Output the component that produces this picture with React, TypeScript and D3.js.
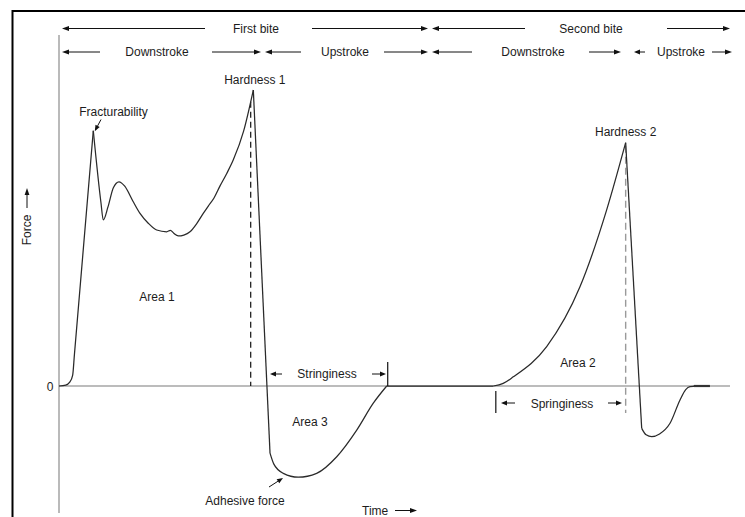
import React from "react";
import * as d3 from "d3";

const W = 745;
const H = 517;

type Pt = [number, number]; // [time, force]

// ---- curve data (time units, force units) ----
const firstRise: Pt[] = [[0, 0], [1.0, 0.3], [1.6, 1.3], [2.04, 3.7], [2.3, 10.7], [5.11, 86.25]];
const firstBitePlateau: Pt[] = [
  [5.11, 86.25], [6.25, 62], [6.6, 56.1], [7.3, 60.5], [8.1, 67], [8.94, 69.0], [9.8, 67.5],
  [11, 62.5], [12.07, 58.3], [13.3, 55], [14.56, 52.7], [16.05, 52.1], [16.6, 52.6], [17.1, 51.6],
  [17.78, 50.7], [18.6, 51], [19.52, 52.1], [20.5, 54.8], [21.5, 58.3], [22.25, 60.8], [23.1, 63.5],
  [24.0, 67.6], [25.0, 71.8], [25.98, 76.4], [27.5, 86], [28.96, 100],
];
const firstDrop: Pt[] = [[28.96, 100], [31.45, -22.7]];
const adhesion: Pt[] = [
  [31.45, -22.7], [32.0, -26.3], [33.43, -29.5], [35.66, -30.8], [38.4, -29.5], [41.39, -23.9],
  [44.37, -14.9], [46.84, -5.8], [48.84, 0],
];
const rest: Pt[] = [[48.84, 0], [64.72, 0]];
const secondRise: Pt[] = [[64.72, 0], [66.2, 0.9], [67.7, 3.1], [72.68, 13.3], [77.64, 33.5], [81.62, 59.5], [84.45, 82.2]];
const secondDrop: Pt[] = [[84.45, 82.2], [86.84, -14.3]];
const secondTail: Pt[] = [
  [86.84, -14.3], [87.5, -16.5], [88.33, -17.1], [89.5, -16.2], [91.06, -12.6], [92.55, -4.7],
  [93.4, -1.2], [94.04, -0.2], [95, 0], [97, 0],
];

// ---- labels ----
const biteLabels = ["First bite", "Second bite"];
const strokeLabels = ["Downstroke", "Upstroke", "Downstroke", "Upstroke"];
const pointLabels = ["Fracturability", "Hardness 1", "Hardness 2"];
const areaLabels = ["Area 1", "Area 2", "Area 3"];
const distanceLabels = ["Stringiness", "Springiness"];
const hardness1DashTime = 28.57;
const springinessStartTime = 65.1;
const zeroTickLabel = "0";

const FONT = "'Liberation Sans', Arial, Helvetica, sans-serif";
const TXT = "#1c1c1c";

function Arrow({ x1, y1, x2, y2, len = 7, hw = 2.4, color = "#111", sw = 1 }: any) {
  const ang = Math.atan2(y2 - y1, x2 - x1);
  const bx = x2 - len * Math.cos(ang);
  const by = y2 - len * Math.sin(ang);
  const px = -Math.sin(ang) * hw;
  const py = Math.cos(ang) * hw;
  return (
    <g>
      <line x1={x1} y1={y1} x2={bx} y2={by} stroke={color} strokeWidth={sw} />
      <path d={`M${x2},${y2}L${bx + px},${by + py}L${bx - px},${by - py}Z`} fill={color} />
    </g>
  );
}

function Label({ x, y, children, anchor = "middle" }: any) {
  return (
    <text x={x} y={y} textAnchor={anchor} fontFamily={FONT} fontSize={12} fill={TXT}>
      {children}
    </text>
  );
}

export default function App() {
  const x = d3.scaleLinear().domain([0, 100]).range([59, 730]);
  const y = d3.scaleLinear().domain([0, 100]).range([386, 90]);

  const smooth = d3.line<Pt>().x((d) => x(d[0])).y((d) => y(d[1])).curve(d3.curveMonotoneX);
  const straight = d3.line<Pt>().x((d) => x(d[0])).y((d) => y(d[1])).curve(d3.curveLinear);

  const segs: { pts: Pt[]; s: boolean }[] = [
    { pts: firstRise, s: true },
    { pts: firstBitePlateau, s: true },
    { pts: firstDrop, s: false },
    { pts: adhesion, s: true },
    { pts: rest, s: false },
    { pts: secondRise, s: true },
    { pts: secondDrop, s: false },
    { pts: secondTail, s: true },
  ];

  const h1 = firstBitePlateau[firstBitePlateau.length - 1];
  const h2 = secondRise[secondRise.length - 1];
  const stringEnd = adhesion[adhesion.length - 1];

  const row1 = 28.5;
  const row2 = 52;

  return (
    <svg width={W} height={H} style={{ position: "absolute", left: 0, top: 0, background: "#fff" }}>
      {/* frame */}
      <rect x={12.5} y={11} width={900} height={700} fill="none" stroke="#000" strokeWidth={2} />

      {/* axes */}
      <line x1={x(0)} x2={x(0)} y1={35} y2={513} stroke="#8c8c8c" strokeWidth={1.2} />
      <line x1={x(0)} x2={x(100)} y1={y(0)} y2={y(0)} stroke="#7a7a7a" strokeWidth={1.2} />
      <Label x={50} y={y(0) + 5}>{zeroTickLabel}</Label>

      {/* Force label */}
      <g transform={`translate(31,230) rotate(-90)`}>
        <text x={0} y={0} textAnchor="middle" fontFamily={FONT} fontSize={12} fill={TXT}>Force</text>
      </g>
      <Arrow x1={27} y1={208} x2={27} y2={188} />

      {/* Time label */}
      <Label x={362} y={514.5} anchor="start">Time</Label>
      <Arrow x1={395} y1={510.5} x2={417} y2={510.5} />

      {/* top row 1: bites */}
      <Arrow x1={205} y1={row1} x2={62} y2={row1} />
      <Label x={256} y={row1 + 4.3}>{biteLabels[0]}</Label>
      <Arrow x1={312} y1={row1} x2={428} y2={row1} />
      <Arrow x1={525} y1={row1} x2={432} y2={row1} />
      <Label x={591} y={row1 + 4.3}>{biteLabels[1]}</Label>
      <Arrow x1={667} y1={row1} x2={730} y2={row1} />

      {/* top row 2: strokes */}
      <Arrow x1={100} y1={row2} x2={62} y2={row2} />
      <Label x={157} y={row2 + 4.3}>{strokeLabels[0]}</Label>
      <Arrow x1={212} y1={row2} x2={261} y2={row2} />
      <Arrow x1={301} y1={row2} x2={265} y2={row2} />
      <Label x={345} y={row2 + 4.3}>{strokeLabels[1]}</Label>
      <Arrow x1={384} y1={row2} x2={428} y2={row2} />
      <Arrow x1={472} y1={row2} x2={432} y2={row2} />
      <Label x={533} y={row2 + 4.3}>{strokeLabels[2]}</Label>
      <Arrow x1={589} y1={row2} x2={621} y2={row2} />
      <Arrow x1={645} y1={row2} x2={634} y2={row2} len={6} />
      <Label x={681} y={row2 + 4.3}>{strokeLabels[3]}</Label>
      <Arrow x1={712} y1={row2} x2={732} y2={row2} />

      {/* dashed drop lines */}
      <line x1={x(hardness1DashTime)} x2={x(hardness1DashTime)} y1={y(96)} y2={y(0)} stroke="#111" strokeWidth={1.2} strokeDasharray="6,4" />
      <line x1={x(h2[0])} x2={x(h2[0])} y1={y(h2[1]) + 3} y2={413} stroke="#9a9a9a" strokeWidth={1.4} strokeDasharray="7,4" />

      {/* curve */}
      {segs.map((sg, i) => (
        <path key={i} d={(sg.s ? smooth : straight)(sg.pts) || ""} fill="none" stroke="#2a2a2a" strokeWidth={1.25} strokeLinejoin="round" />
      ))}
      <line x1={x(94.6)} x2={x(97)} y1={y(0)} y2={y(0)} stroke="#333" strokeWidth={2.2} />

      {/* point labels */}
      <Label x={113.5} y={116}>{pointLabels[0]}</Label>
      <Arrow x1={101} y1={119.5} x2={x(firstRise[firstRise.length - 1][0]) + 1.5} y2={y(firstRise[firstRise.length - 1][1]) + 0.5} len={6} />
      <Label x={x(h1[0]) + 1.5} y={84}>{pointLabels[1]}</Label>
      <Label x={x(h2[0])} y={136}>{pointLabels[2]}</Label>

      {/* areas */}
      <Label x={157} y={301}>{areaLabels[0]}</Label>
      <Label x={578} y={367}>{areaLabels[1]}</Label>
      <Label x={310} y={426}>{areaLabels[2]}</Label>

      {/* stringiness */}
      <line x1={x(stringEnd[0]) + 1} x2={x(stringEnd[0]) + 1} y1={362} y2={y(0)} stroke="#111" strokeWidth={1.2} />
      <Arrow x1={282} y1={374} x2={270} y2={374} len={6} />
      <Label x={327} y={377.5}>{distanceLabels[0]}</Label>
      <Arrow x1={372} y1={374} x2={386} y2={374} len={6} />

      {/* springiness */}
      <line x1={x(springinessStartTime)} x2={x(springinessStartTime)} y1={391} y2={413} stroke="#111" strokeWidth={1.2} />
      <Arrow x1={515} y1={403} x2={501} y2={403} len={6} />
      <Label x={562} y={407.5}>{distanceLabels[1]}</Label>
      <Arrow x1={608} y1={403} x2={622} y2={403} len={6} />

      {/* adhesive force */}
      <Label x={245} y={505}>Adhesive force</Label>
      <Arrow x1={269} y1={487} x2={283} y2={478} len={6} />
    </svg>
  );
}
